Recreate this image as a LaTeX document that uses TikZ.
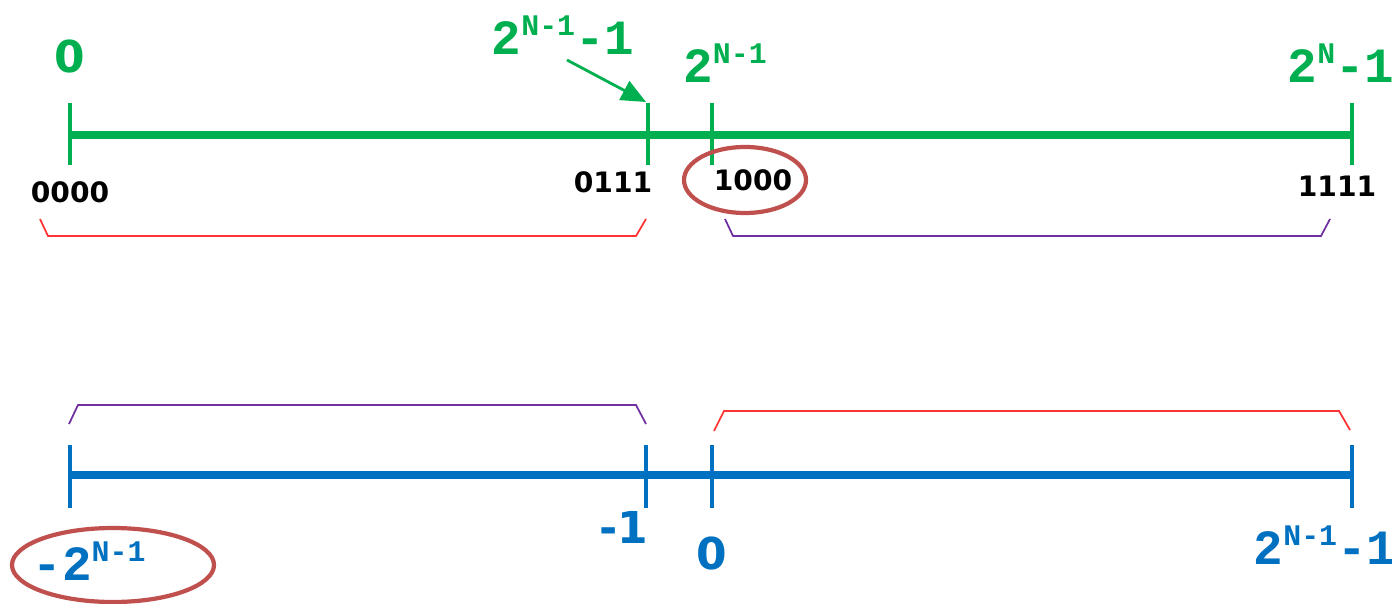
\documentclass[tikz,border=0pt]{standalone}
\usepackage{fontspec}
\usetikzlibrary{arrows.meta,positioning}
\usepackage{xcolor}
\definecolor{lgreen}{HTML}{00B050}
\definecolor{lblue}{HTML}{0070C0}
\definecolor{ring}{HTML}{C0504D}
\definecolor{lred}{HTML}{FF3333}
\definecolor{lpurple}{HTML}{7030A0}
\newfontfamily\cour{Liberation Mono}
\newfontfamily\cmc{DejaVu Sans}
\newcommand\expo[1]{\raisebox{0.75ex}{\fontsize{8.5}{8.5}\selectfont #1}}

\begin{document}
\begin{tikzpicture}[
  x=0.01cm, y=-0.01cm,
  axis/.style={line width=2pt},
  tick/.style={line width=0.9pt},
  brace/.style={line width=0.5pt},
  pow/.style={font=\cour\bfseries\fontsize{14}{14}\selectfont, inner sep=0pt},
  num/.style={font=\cmc\bfseries\fontsize{12.5}{13}\selectfont, inner sep=0pt},
  bits/.style={font=\cmc\bfseries\fontsize{8}{9}\selectfont, inner sep=0pt},
  oval/.style={draw=ring, line width=1.2pt}
]
\useasboundingbox (0,0) rectangle (1392,604);

% unsigned line
\coordinate (ua) at (70,135); \coordinate (ub) at (648,135);
\coordinate (uc) at (712,135); \coordinate (ud) at (1352,135);
\draw[axis, lgreen] (ua) -- (ud);
\foreach \p in {ua,ub,uc,ud}
  \draw[tick, lgreen] ([yshift=0.32cm]\p) -- ([yshift=-0.3cm]\p);

\node[num, text=lgreen] (g0) at (70,57) {0};
\node[pow, text=lgreen] (gm) at (563,35) {2\expo{N-1}-1};
\node[pow, text=lgreen] (gh) at (725,63) {2\expo{N-1}};
\node[pow, text=lgreen] (gx) at (1341,63) {2\expo{N}-1};
\coordinate (tip) at (646,102);
\draw[lgreen, line width=0.8pt, -{Triangle[length=7pt,width=6pt]}] (567,60) -- (tip);

\node[bits] (b0) at (70,192) {0000};
\node[bits] (b7) at (613,182) {0111};
\node[bits] (b8) at (753,180) {1000};
\node[bits] (b15) at (1337,186) {1111};
\draw[oval] (745,180) ellipse [x radius=61, y radius=33];

\draw[brace, lred] (40,219) -- (48,236) -- (636,236) -- (646,219);
\draw[brace, lpurple] (725,219) -- (733,236) -- (1321,236) -- (1330,219);

% signed line
\coordinate (sa) at (70,475); \coordinate (sb) at (646,475);
\coordinate (sc) at (712,475); \coordinate (sd) at (1352,475);
\draw[axis, lblue] (sa) -- (sd);
\foreach \p in {sa,sb,sc,sd}
  \draw[tick, lblue] ([yshift=0.3cm]\p) -- ([yshift=-0.33cm]\p);

\draw[brace, lpurple] (69,424) -- (78,405) -- (636,405) -- (646,424);
\draw[brace, lred] (714,431) -- (724,411) -- (1339,411) -- (1350,430);

\node[pow, text=lblue] (smin) at (89,561) {-2\expo{N-1}};
\node[num, text=lblue] (sm1) at (624,527) {-1};
\node[num, text=lblue] (s0) at (712,553) {0};
\node[pow, text=lblue] (smax) at (1325,545) {2\expo{N-1}-1};
\draw[oval] (113,565) ellipse [x radius=101, y radius=37];
\end{tikzpicture}
\end{document}
